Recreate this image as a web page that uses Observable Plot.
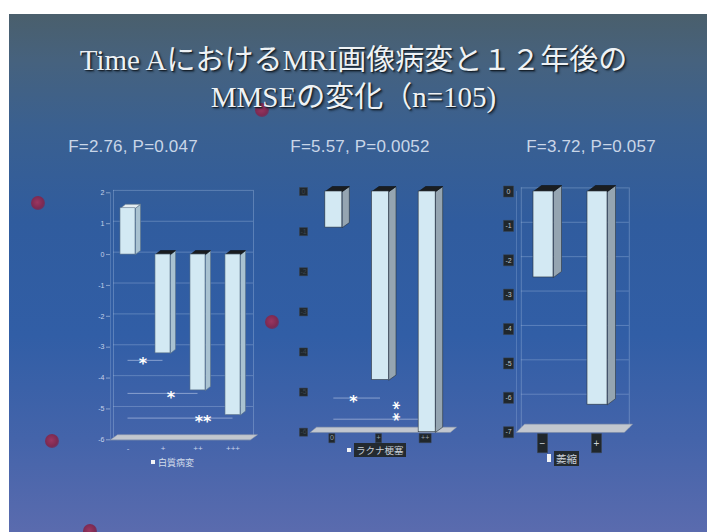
<!DOCTYPE html>
<html>
<head>
<meta charset="utf-8">
<script src="https://cdn.jsdelivr.net/npm/d3@7"></script>
<script src="https://cdn.jsdelivr.net/npm/@observablehq/plot@0.6"></script>
<style>
  html, body { margin: 0; padding: 0; background: #fff; }
  #slide { position: relative; width: 707px; height: 532px; overflow: hidden; background: #fff;
           font-family: "Liberation Sans", Arial, sans-serif; }
  #bg { position: absolute; left: 9px; top: 14px; right: 0; bottom: 0;
        background: linear-gradient(180deg, #4a5f6c 0%, #46627e 9%, #3a6090 22%, #305c9e 40%, #315ea6 62%, #4464aa 82%, #5a6bae 100%); }
  .dot { position: absolute; width: 14px; height: 14px; border-radius: 50%;
         background: radial-gradient(circle at 45% 45%, #9a3660 0%, #7c2a52 55%, rgba(110,40,90,0.6) 80%, rgba(90,60,130,0) 100%); }
  .layer { position: absolute; left: 0; top: 0; }
  .title { position: absolute; left: 0; width: 707px; text-align: center; color: #eef2f5;
           font-family: "Liberation Serif", "Noto Sans CJK JP", serif; font-size: 29px; line-height: 34px;
           text-shadow: 1px 1px 1px #16202a, 2px 2px 2px rgba(10,20,30,0.5); white-space: nowrap; }
  .stat { position: absolute; transform: translate(-50%, -50%); color: #c9d6e8; font-size: 17px;
          letter-spacing: 0.2px; white-space: nowrap; }
  .legend { position: absolute; display: flex; align-items: center; gap: 3px;
            font-family: "Noto Sans CJK JP", sans-serif; white-space: nowrap; }
  .legend .sw { background: #f2f4f6; }
  .legend .box { background: #232a30; color: #c9d0d8; padding: 0 2px; }
</style>
</head>
<body>
<div id="slide">
  <div id="bg"></div>
</div>
<script>
// ---- data -------------------------------------------------------------
const titleLines = ["Time AにおけるMRI画像病変と１２年後の", "MMSEの変化（n=105)"];
const panelStats = ["F=2.76, P=0.047", "F=5.57, P=0.0052", "F=3.72, P=0.057"];
const legendNames = ["白質病変", "ラクナ梗塞", "萎縮"];

// 白質病変
const wmCategories = ["-", "+", "++", "+++"];
const wmValues = [1.5, -3.2, -4.4, -5.2];
const wmSignif = ["", "*", "*", "**"];
const wmTicks = [2, 1, 0, -1, -2, -3, -4, -5, -6];

// ラクナ梗塞
const lacCategories = ["0", "+", "++"];
const lacValues = [-0.9, -4.7, -6.0];
const lacSignif = ["", "*", "**"];
const lacTicks = [0, -1, -2, -3, -4, -5, -6];

// 萎縮
const atrCategories = ["−", "+"];
const atrValues = [-2.5, -6.2];
const atrSignif = ["", ""];
const atrTicks = [0, -1, -2, -3, -4, -5, -6, -7];

// ---- layout -----------------------------------------------------------
const W = 707, H = 532;
const slide = document.getElementById("slide");

// decorative template dots
[[38, 203], [272, 322], [52, 441], [262, 110], [90, 531]].forEach(([x, y]) => {
  const d = document.createElement("div");
  d.className = "dot";
  d.style.left = (x - 7) + "px";
  d.style.top = (y - 7) + "px";
  slide.appendChild(d);
});

titleLines.forEach((t, i) => {
  const d = document.createElement("div");
  d.className = "title";
  d.style.top = (i === 0 ? 43 : 80) + "px";
  d.textContent = t;
  slide.appendChild(d);
});

const panels = [
  {
    categories: wmCategories, values: wmValues, signif: wmSignif, ticks: wmTicks,
    x0: 110, x1: 250, yTop: 192.3, yBottom: 439.3, ymin: -6, ymax: 2,
    barW: 15, depthX: 5, depthY: 4, floorX: 7, floorY: 5,
    front: "#d3e9f3", side: "#a9c2d1", topPos: "#e4ecf0", topNeg: "#1a1d20", edge: "#5d7388",
    grid: true, wall: true, tickStyle: "plain",
    // star placement (px) relative to the bottom of each column: [dx, dy, stacked vertically]
    starOffsets: [null, [-20, 7, false], [-27, 3, false], [-30, 3, false]],
    stat: [133, 147],
    legend: {x: 151, y: 462, font: 9, swW: 4, swH: 4, boxed: false}
  },
  {
    categories: lacCategories, values: lacValues, signif: lacSignif, ticks: lacTicks,
    x0: 310, x1: 450, yTop: 191, yBottom: 431.7, ymin: -6, ymax: 0,
    barW: 17, depthX: 7, depthY: 5, floorX: 6, floorY: 5,
    front: "#d3e9f3", side: "#95a5b1", topPos: "#e4ecf0", topNeg: "#1a1d20", edge: "#2d353c",
    grid: false, wall: false, tickStyle: "dark",
    starOffsets: [null, [-27, 18, false], [-30, -21, true]],
    stat: [360, 147],
    legend: {x: 347, y: 450, font: 9.5, swW: 4, swH: 4, boxed: true}
  },
  {
    categories: atrCategories, values: atrValues, signif: atrSignif, ticks: atrTicks,
    x0: 516, x1: 624, yTop: 191, yBottom: 431.7, ymin: -7, ymax: 0,
    barW: 20, depthX: 8, depthY: 6, floorX: 8, floorY: 8,
    front: "#d3e9f3", side: "#95a5b1", topPos: "#e4ecf0", topNeg: "#1a1d20", edge: "#2d353c",
    grid: true, wall: true, tickStyle: "boxed",
    starOffsets: [null, null],
    stat: [591, 147],
    legend: {x: 547, y: 458, font: 10.5, swW: 4, swH: 8, boxed: true}
  }
];

// rectangle symbol of fixed pixel size, used for the dark label boxes
const boxSymbol = (w, h) => ({draw(ctx) { ctx.rect(-w / 2, -h / 2, w, h); }});

function drawPanel(p, idx) {
  const n = p.categories.length;
  const kx = (p.x1 - p.x0) / n;
  const ky = (p.yBottom - p.yTop) / (p.ymax - p.ymin);
  const hw = p.barW / 2 / kx, ex = p.depthX / kx, ey = p.depthY / ky;

  const rows = p.categories.map((c, i) => ({i, cat: c, v: p.values[i], s: p.signif[i]}));

  // faces of each 3D column
  const side = [], topFace = [];
  rows.forEach(d => {
    const xl = d.i + 0.5 - hw, xr = d.i + 0.5 + hw;
    const vt = Math.max(0, d.v), vb = Math.min(0, d.v);
    [[xr, vt], [xr + ex, vt + ey], [xr + ex, vb + ey], [xr, vb]]
      .forEach(([x, y]) => side.push({id: d.i, x, y}));
    [[xl, vt], [xl + ex, vt + ey], [xr + ex, vt + ey], [xr, vt]]
      .forEach(([x, y]) => topFace.push({id: d.i, x, y, pos: d.v > 0}));
  });

  const fx = p.floorX / kx, fy = p.floorY / ky;
  const floor = [[0, p.ymin], [fx, p.ymin + fy], [n + fx, p.ymin + fy], [n, p.ymin]]
    .map(([x, y]) => ({x, y}));

  const gridColor = "#a9c0e4";
  const marks = [];

  if (p.grid) {
    marks.push(Plot.ruleY(p.ticks.filter(t => t !== p.ymin), {
      x1: 0, x2: n, dx: p.depthX * 0.6, dy: -p.depthY * 0.6,
      stroke: gridColor, strokeOpacity: 0.45, strokeWidth: 0.8
    }));
  }
  if (p.wall) {
    marks.push(Plot.ruleX([0, n], {y1: p.ymin, y2: p.ymax, dx: p.depthX * 0.6, dy: -p.depthY * 0.6,
      stroke: gridColor, strokeOpacity: 0.45, strokeWidth: 0.8}));
    marks.push(Plot.ruleX([0], {y1: p.ymin, y2: p.ymax, stroke: gridColor, strokeOpacity: 0.35, strokeWidth: 0.8}));
  }

  // floor
  marks.push(Plot.line(floor, {x: "x", y: "y", curve: "linear-closed", fill: "#c2c7cf", stroke: "#9aa2ad", strokeWidth: 0.5}));

  // significance brackets, drawn from the reference column
  rows.forEach(d => {
    const off = p.starOffsets[d.i];
    if (!d.s || !off) return;
    const dy = off[2] ? off[1] + 8 : off[1];
    marks.push(Plot.ruleY([d.v], {x1: 0.5, x2: d.i + 0.5, dy, stroke: "#c8d6ee", strokeOpacity: 0.55, strokeWidth: 1}));
  });

  // 3D columns
  marks.push(Plot.line(side, {x: "x", y: "y", z: "id", curve: "linear-closed", fill: p.side, stroke: p.edge, strokeWidth: 0.6}));
  marks.push(Plot.line(topFace.filter(t => t.pos), {x: "x", y: "y", z: "id", curve: "linear-closed", fill: p.topPos, stroke: p.edge, strokeWidth: 0.6}));
  marks.push(Plot.line(topFace.filter(t => !t.pos), {x: "x", y: "y", z: "id", curve: "linear-closed", fill: p.topNeg, stroke: "#0e1012", strokeWidth: 0.6}));
  marks.push(Plot.rect(rows, {x1: d => d.i + 0.5 - hw, x2: d => d.i + 0.5 + hw, y1: 0, y2: "v",
    fill: p.front, stroke: p.edge, strokeWidth: 0.6}));

  // significance stars
  rows.forEach(d => {
    const off = p.starOffsets[d.i];
    if (!d.s || !off) return;
    const stacked = off[2];
    marks.push(Plot.text([d], {
      x: d => d.i + 0.5, y: "v",
      text: d => stacked ? d.s.split("").join("\u2009") : d.s,
      rotate: stacked ? 90 : 0,
      dx: stacked ? off[0] - 4 : off[0], dy: stacked ? off[1] : off[1] + 4,
      fill: "#ffffff", fontSize: 16, fontWeight: "bold", fontFamily: "DejaVu Sans"
    }));
  });

  // axes
  if (p.tickStyle === "plain") {
    marks.push(Plot.axisY(p.ticks, {anchor: "left", tickSize: 4, tickPadding: 2, fontSize: 7, label: null,
      tickFormat: d => String(d), color: "#c6d3ea", strokeOpacity: 0.6}));
    marks.push(Plot.axisX(rows.map(d => d.i + 0.5), {anchor: "bottom", tickSize: 0, tickPadding: 6, fontSize: 8, label: null,
      tickFormat: (x) => p.categories[Math.round(x - 0.5)], color: "#c6d3ea"}));
  } else {
    const dark = p.tickStyle === "dark";
    const bw = dark ? 8 : 10, bh = dark ? 8 : 11;
    marks.push(Plot.dot(p.ticks, {x: 0, y: d => d, dx: dark ? -7 : -8, symbol: boxSymbol(bw, bh), fill: "#20272c", stroke: "#3a434a", strokeWidth: 0.5}));
    marks.push(Plot.text(p.ticks, {x: 0, y: d => d, dx: dark ? -7 : -8, text: d => String(d), fontSize: 7,
      fill: dark ? "#3c464e" : "#b9c2ca"}));
    // category labels in dark boxes
    const lw = dark ? [6, 6, 12] : [10, 10];
    const lh = dark ? 9 : 19;
    const ldy = dark ? 6 : 11;
    rows.forEach(d => {
      marks.push(Plot.dot([d], {x: d => d.i + 0.5, y: p.ymin, dx: dark ? -2 : -1, dy: ldy,
        symbol: boxSymbol(lw[d.i] || 10, lh), fill: "#20272c", stroke: "#3a434a", strokeWidth: 0.5}));
    });
    marks.push(Plot.text(rows, {x: d => d.i + 0.5, y: p.ymin, dx: dark ? -2 : -1, dy: dark ? ldy : 12, text: "cat",
      fontSize: dark ? 7 : 10, fill: dark ? "#97a1ab" : "#cdd4da"}));
  }

  const chart = Plot.plot({
    width: W, height: H,
    marginLeft: p.x0, marginRight: W - p.x1,
    marginTop: p.yTop, marginBottom: H - p.yBottom,
    x: {domain: [0, n], axis: null, label: null},
    y: {domain: [p.ymin, p.ymax], axis: null, label: null},
    style: {background: "transparent", overflow: "visible", fontFamily: "Liberation Sans, Arial, sans-serif"},
    marks
  });
  const wrap = document.createElement("div");
  wrap.className = "layer";
  wrap.appendChild(chart);
  slide.appendChild(wrap);

  // panel statistic above the chart
  const st = document.createElement("div");
  st.className = "stat";
  st.style.left = p.stat[0] + "px";
  st.style.top = p.stat[1] + "px";
  st.textContent = panelStats[idx];
  slide.appendChild(st);

  // legend below the chart
  const lg = document.createElement("div");
  lg.className = "legend";
  lg.style.left = p.legend.x + "px";
  lg.style.top = (p.legend.y - 8) + "px";
  lg.style.height = "16px";
  lg.style.fontSize = p.legend.font + "px";
  const sw = document.createElement("span");
  sw.className = "sw";
  sw.style.width = p.legend.swW + "px";
  sw.style.height = p.legend.swH + "px";
  lg.appendChild(sw);
  const tx = document.createElement("span");
  tx.textContent = legendNames[idx];
  if (p.legend.boxed) tx.className = "box";
  else tx.style.color = "#d2dcea";
  lg.appendChild(tx);
  slide.appendChild(lg);
}

panels.forEach(drawPanel);
</script>
</body>
</html>
